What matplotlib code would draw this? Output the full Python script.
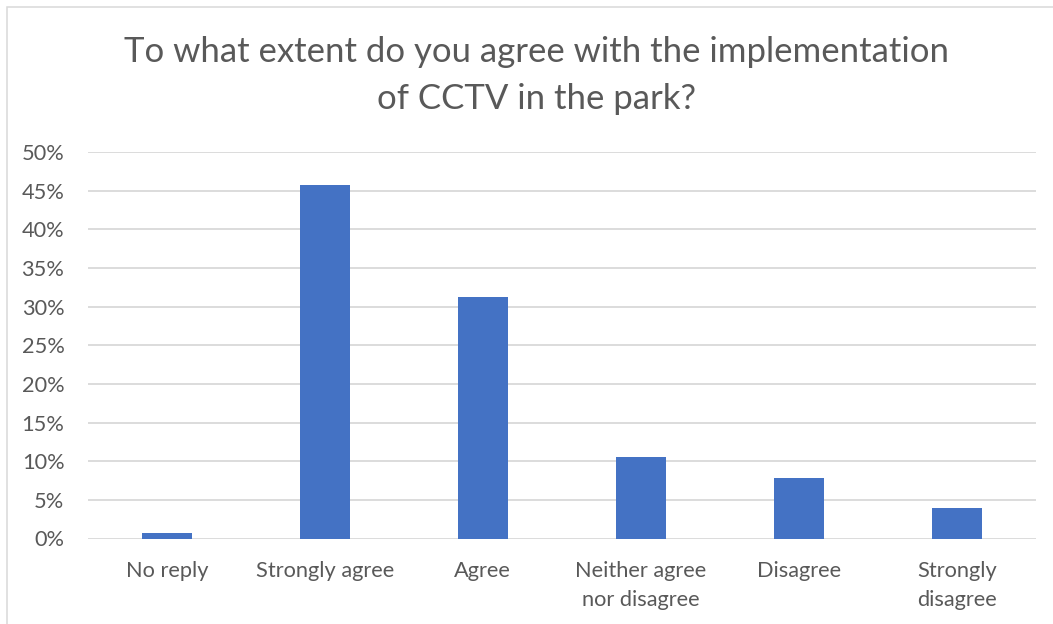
import matplotlib
matplotlib.use("Agg")
import matplotlib.pyplot as plt
from matplotlib.patches import Rectangle
from matplotlib.ticker import PercentFormatter, MultipleLocator

# Survey responses (share of respondents, %)
categories = ["No reply", "Strongly agree", "Agree",
              "Neither agree\nnor disagree", "Disagree", "Strongly\ndisagree"]
shares = [0.75, 45.7, 31.3, 10.6, 7.8, 3.9]
title = "To what extent do you agree with the implementation\nof CCTV in the park?"

W, H, DPI = 1053, 624, 100
BAR = "#4472C4"
GRID = "#D9D9D9"
TEXT = "#595959"
FONT = "Lato"

plt.rcParams["font.family"] = [FONT, "DejaVu Sans"]

fig = plt.figure(figsize=(W / DPI, H / DPI), dpi=DPI)
fig.patch.set_facecolor("white")

# chart-area outline
fig.patches.append(Rectangle((7 / W, -0.05), 1.2, 1 - 7 / H + 0.05,
                             transform=fig.transFigure, fill=False,
                             edgecolor=GRID, linewidth=1.1, zorder=0))

left, right = 88 / W, 1035.7 / W
bottom, top = 1 - 538.5 / H, 1 - 152 / H
ax = fig.add_axes([left, bottom, right - left, top - bottom])

x = range(len(categories))
ax.bar(x, shares, width=0.315, color=BAR, zorder=3)

ax.set_xlim(-0.5, len(categories) - 0.5)
ax.set_ylim(0, 50)
ax.yaxis.set_major_locator(MultipleLocator(5))
ax.yaxis.set_major_formatter(PercentFormatter(decimals=0))
ax.grid(axis="y", color=GRID, linewidth=1.3, zorder=0)
ax.set_axisbelow(True)
for s in ax.spines.values():
    s.set_visible(False)

ax.set_xticks(list(x))
ax.set_xticklabels(categories, linespacing=1.6)
ax.tick_params(axis="both", length=0, labelsize=15.7, labelcolor=TEXT)
ax.tick_params(axis="y", pad=17)
ax.tick_params(axis="x", pad=16)

fig.text(536.6 / W, 1 - 75.5 / H, title, ha="center", va="center",
         fontsize=25, color=TEXT, linespacing=1.55)

fig.savefig("out.png", dpi=DPI, facecolor="white")
